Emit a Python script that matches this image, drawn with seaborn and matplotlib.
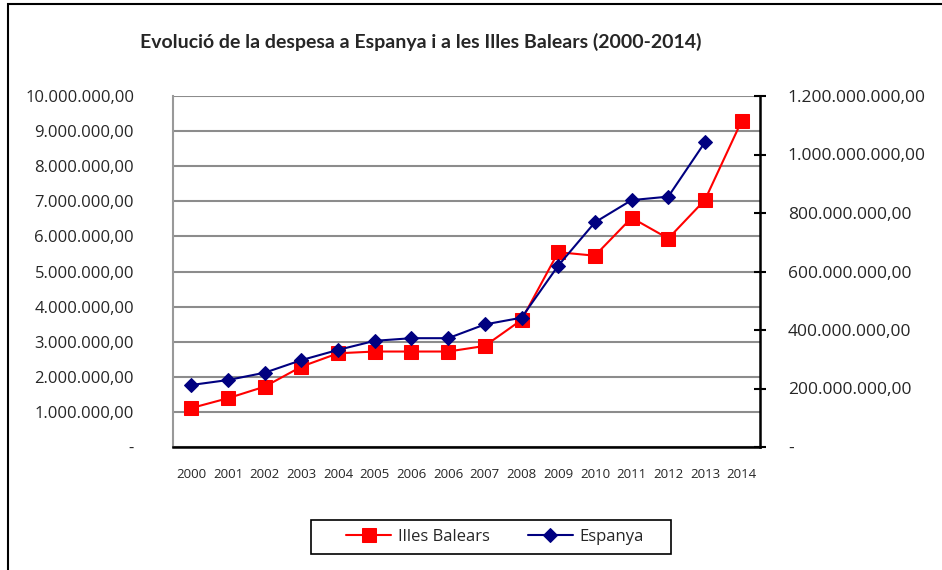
import matplotlib
matplotlib.use("Agg")
import matplotlib.pyplot as plt
import matplotlib.ticker as mticker
from matplotlib.patches import Rectangle
import seaborn as sns

# data
years = ["2000", "2001", "2002", "2003", "2004", "2005", "2006", "2006",
         "2007", "2008", "2009", "2010", "2011", "2012", "2013", "2014"]
illes_balears = [1.11e6, 1.39e6, 1.72e6, 2.29e6, 2.67e6, 2.72e6, 2.72e6, 2.72e6,
                 2.88e6, 3.62e6, 5.55e6, 5.45e6, 6.53e6, 5.94e6, 7.04e6, 9.29e6]
espanya = [212e6, 229e6, 254e6, 297e6, 332e6, 363e6, 372e6, 372e6,
           419e6, 442e6, 620e6, 768e6, 844e6, 856e6, 1042e6, None]

positions = list(range(len(years)))


def fmt_money(v, pos=None):
    if abs(v) < 1e-6:
        return "-"
    s = f"{v:,.2f}"
    return s.replace(",", "X").replace(".", ",").replace("X", ".")


sns.set_style("white")
plt.rcParams["font.family"] = ["Open Sans", "DejaVu Sans"]

fig = plt.figure(figsize=(9.42, 5.70), dpi=100)
ax = fig.add_axes([173 / 942, 1 - 447 / 570, 587 / 942, 351 / 570])
ax2 = ax.twinx()

sns.lineplot(x=positions, y=illes_balears, ax=ax, color="#FF0000", lw=1.5,
             marker="s", markersize=10, markeredgecolor="#FF0000",
             label="Illes Balears", legend=False)
esp_x = [p for p, v in zip(positions, espanya) if v is not None]
esp_y = [v for v in espanya if v is not None]
sns.lineplot(x=esp_x, y=esp_y, ax=ax2, color="#000080", lw=1.5,
             marker="D", markersize=7.5, markeredgecolor="#000080",
             label="Espanya", legend=False)

ax.set_xlim(-0.5, len(years) - 0.5)
ax.set_ylim(0, 10e6)
ax2.set_ylim(0, 1.2e9)
ax.set_xticks(positions)
ax.set_xticklabels(years, fontsize=9.5)
ax.set_yticks([i * 1e6 for i in range(11)])
ax2.set_yticks([i * 200e6 for i in range(7)])
ax.yaxis.set_major_formatter(mticker.FuncFormatter(fmt_money))
ax2.yaxis.set_major_formatter(mticker.FuncFormatter(fmt_money))
ax.tick_params(axis="y", labelsize=12, length=0, pad=28)
ax.tick_params(axis="x", length=0, pad=15)
ax2.tick_params(axis="y", labelsize=12.5, length=8, width=1.5, direction="inout",
                pad=16, color="black")
ax.set_xlabel("")
ax.set_ylabel("")
ax2.set_ylabel("")

ax.grid(axis="y", color="#8c8c8c", lw=1.5)
ax.set_axisbelow(True)
for name, sp in ax.spines.items():
    sp.set_visible(name in ("left", "bottom"))
ax.spines["left"].set_color("#999999")
ax.spines["left"].set_linewidth(1.5)
ax.spines["bottom"].set_color("black")
ax.spines["bottom"].set_linewidth(1.8)
for name, sp in ax2.spines.items():
    sp.set_visible(name == "right")
ax2.spines["right"].set_color("black")
ax2.spines["right"].set_linewidth(1.8)

fig.text(421 / 942, 1 - 42 / 570,
         "Evolució de la despesa a Espanya i a les Illes Balears (2000-2014)",
         ha="center", va="center", fontsize=14, fontweight="bold",
         family=["Lato", "DejaVu Sans"])

# legend without its own frame, box drawn separately to match the wide padding
h1, l1 = ax.get_legend_handles_labels()
h2, l2 = ax2.get_legend_handles_labels()
leg = fig.legend(h1 + h2, l1 + l2, loc="center", bbox_to_anchor=(495 / 942, 1 - 537 / 570),
                 ncol=2, frameon=False, fontsize=12,
                 handlelength=2.7, handletextpad=0.4, columnspacing=2.3,
                 borderpad=0, borderaxespad=0)
fig.patches.append(Rectangle((311 / 942, 1 - 554 / 570), 360 / 942, 34 / 570,
                             transform=fig.transFigure, fill=False,
                             edgecolor="black", lw=1.2))

fig.patches.append(Rectangle((7.5 / 942, -0.05), 1.0, 1 - 4 / 570 + 0.05,
                             transform=fig.transFigure, fill=False,
                             edgecolor="black", lw=1.5))

fig.savefig("out.png", dpi=100)
